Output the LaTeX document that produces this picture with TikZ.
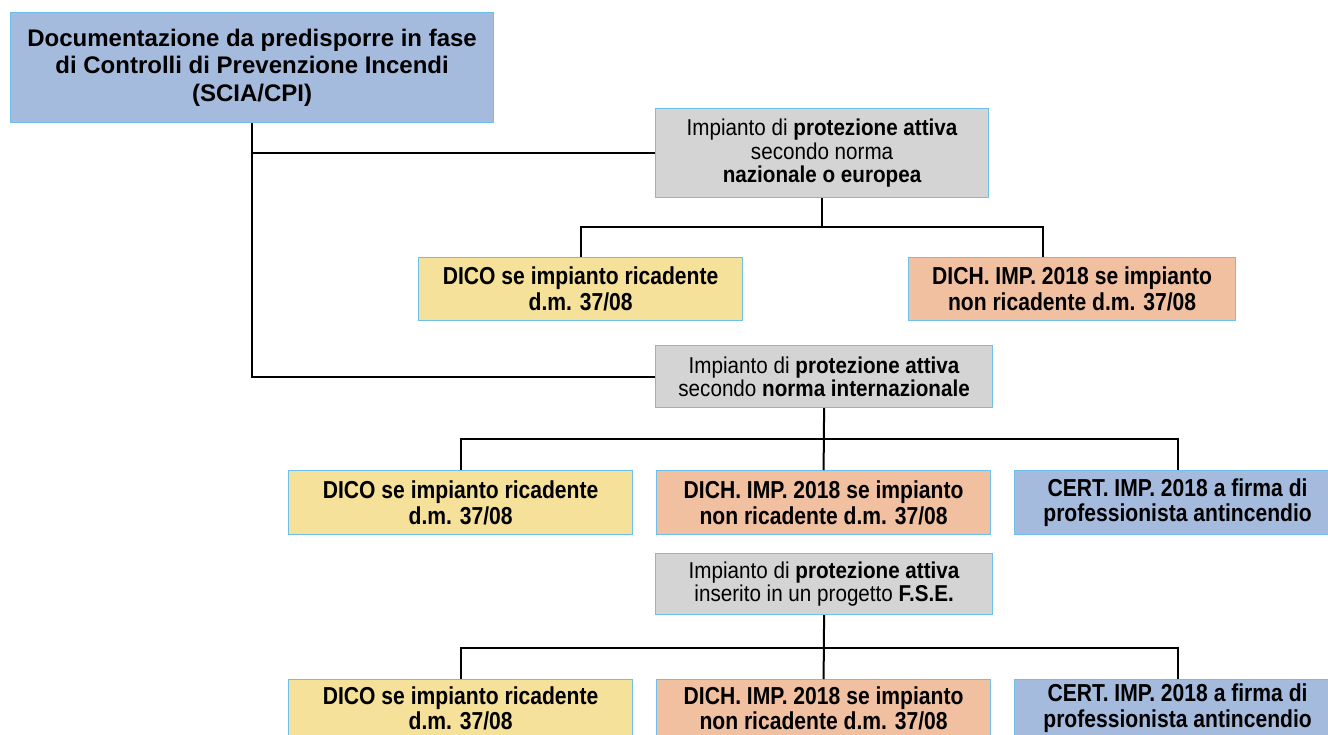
\documentclass[tikz,border=0pt]{standalone}
\usepackage{fontspec}
\setmainfont{Liberation Sans}
\newfontfamily\greyfont[FakeStretch=0.9]{Liberation Sans}
\newfontfamily\leaffont[FakeStretch=0.86]{Liberation Sans}
\definecolor{bluefill}{HTML}{A5BBDD}
\definecolor{greyfill}{HTML}{D4D4D4}
\definecolor{yellowfill}{HTML}{F6E19A}
\definecolor{salmonfill}{HTML}{F1C0A1}
\definecolor{edgeblue}{HTML}{6CC0EA}
\tikzset{
  box/.style={draw=edgeblue, line width=0.9pt, anchor=north west, inner sep=0pt, align=center},
  topbox/.style={box, fill=bluefill, minimum width=362.25pt, minimum height=82.5pt,
     font=\fontsize{18}{20.8}\selectfont\bfseries},
  greybox/.style={box, fill=greyfill, font=\greyfont\fontsize{17.2}{17.3}\selectfont},
  leafbox/.style={box, font=\leaffont\fontsize{18.4}{19.2}\selectfont\bfseries},
  dico/.style={leafbox, fill=yellowfill},
  dich/.style={leafbox, fill=salmonfill},
  cert/.style={leafbox, fill=bluefill},
  conn/.style={draw=black, line width=1.5pt},
}
\begin{document}
\begin{tikzpicture}[x=0.75pt, y=-0.75pt]
\useasboundingbox (0,0) rectangle (1328,735);
% top
\node[topbox] (top) at (10,12) {Documentazione da predisporre in fase\\di Controlli di Prevenzione Incendi\\(SCIA/CPI)};
% group 1
\node[greybox, minimum width=249.75pt, minimum height=66.75pt] (g1) at (655,108)
  {Impianto di \textbf{protezione attiva}\\secondo norma\\\textbf{nazionale o europea}};
\node[dico, minimum width=243pt, minimum height=47.25pt] (a1) at (418,257)
  {DICO se impianto ricadente\\d.m. 37/08};
\node[dich, minimum width=245.25pt, minimum height=47.25pt] (b1) at (908,257)
  {DICH. IMP. 2018 se impianto\\non ricadente d.m. 37/08};
% group 2
\node[greybox, minimum width=252.75pt, minimum height=46.5pt] (g2) at (655,345)
  {Impianto di \textbf{protezione attiva}\\secondo \textbf{norma internazionale}};
\node[dico, minimum width=258pt, minimum height=48pt] (a2) at (288,470)
  {DICO se impianto ricadente\\d.m. 37/08};
\node[dich, minimum width=250.5pt, minimum height=48pt] (b2) at (656,470)
  {DICH. IMP. 2018 se impianto\\non ricadente d.m. 37/08};
\node[cert, minimum width=244.5pt, minimum height=48pt] (c2) at (1014,470)
  {CERT. IMP. 2018 a firma di\\professionista antincendio};
% group 3
\node[greybox, minimum width=252.75pt, minimum height=45.75pt] (g3) at (655,553)
  {Impianto di \textbf{protezione attiva}\\inserito in un progetto \textbf{F.S.E.}};
\node[dico, minimum width=258pt, minimum height=43pt] (a3) at (288,679)
  {DICO se impianto ricadente\\d.m. 37/08};
\node[dich, minimum width=250.5pt, minimum height=43pt] (b3) at (656,679)
  {DICH. IMP. 2018 se impianto\\non ricadente d.m. 37/08};
\node[cert, minimum width=244.5pt, minimum height=43pt] (c3) at (1014,679)
  {CERT. IMP. 2018 a firma di\\professionista antincendio};
% connectors
\coordinate (b1top) at (1043,257);
\draw[conn] (top.south) |- (g2.west);
\draw[conn] (top.south |- g1.west) -- (g1.west);
\draw[conn] (g1.south) -- ++(0,29) -| (a1.north);
\draw[conn] (g1.south) ++(0,29) -| (b1top);
\draw[conn] (g2.south) -- (b2.north);
\draw[conn] (a2.north) |- ++(0,-31) -| (c2.north);
\draw[conn] (g3.south) -- (b3.north);
\draw[conn] (a3.north) |- ++(0,-31) -| (c3.north);
\end{tikzpicture}
\end{document}
